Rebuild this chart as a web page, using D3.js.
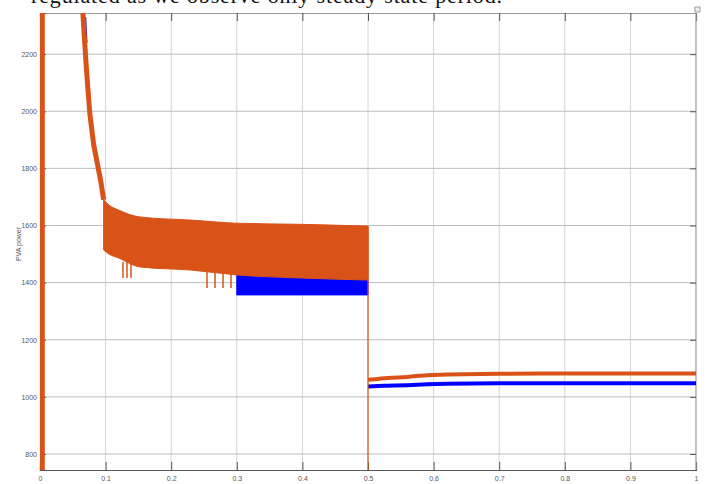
<!DOCTYPE html>
<html>
<head>
<meta charset="utf-8">
<script src="https://cdn.jsdelivr.net/npm/d3@7"></script>
<style>
  body { margin: 0; background: #fff; }
  svg { display: block; }
</style>
</head>
<body>
<div id="chart"></div>
<script>
// data (time in s, power)

var xTicks = [0, 0.1, 0.2, 0.3, 0.4, 0.5, 0.6, 0.7, 0.8, 0.9, 1],
    xTickLabels = ["0", "0.1", "0.2", "0.3", "0.4", "0.5", "0.6", "0.7", "0.8", "0.9", "1"],
    yTicks = [800, 1000, 1200, 1400, 1600, 1800, 2000, 2200],
    yTickLabels = ["800", "1000", "1200", "1400", "1600", "1800", "2000", "2200"];

// start-up spike at t=0
var spikeT = [0.0035, 0.0035],
    spikeV = [700, 2400];

// decay before the band starts
var decayT = [0.064, 0.0665, 0.071, 0.076, 0.082, 0.088, 0.093, 0.097],
    decayV = [2400, 2300, 2140, 1990, 1880, 1810, 1750, 1690];
var blueDecayT = [0.0685, 0.0705],
    blueDecayV = [2330, 2240];

// orange ripple band 0.1 .. 0.5
var bandT = [0.097, 0.105, 0.12, 0.152, 0.23, 0.3, 0.4, 0.5],
    bandTop = [1690, 1672, 1654, 1630, 1619, 1608, 1604, 1598],
    bandBot = [1514, 1500, 1486, 1455, 1444, 1427, 1416, 1409];

// blue band visible 0.3 .. 0.5
var blueT = [0.3, 0.4, 0.5],
    blueTop = [1430, 1420, 1412],
    blueBot = [1357, 1357, 1357];

// dips under the orange band
var dipT = [0.1265, 0.1326, 0.1387, 0.2546, 0.2668, 0.279, 0.2912],
    dipV = [1416, 1416, 1416, 1381, 1381, 1381, 1381];

// step at t=0.5
var stepT = [0.5, 0.5],
    stepV = [1598, 700];

// after the step
var postT = [0.5, 0.515, 0.53, 0.56, 0.59, 0.62, 0.7, 0.8, 0.9, 1.0],
    postOrange = [1060, 1063, 1066, 1070, 1076, 1078, 1081, 1082, 1082, 1082],
    postBlue = [1036, 1038, 1039, 1041, 1044, 1046, 1048, 1048, 1048, 1048];

// Drawing

var W = 708, H = 484,
    L = 40, R = 696, T = 13, B = 470;

var orange = "#D95319", blue = "#0000FF";

var svg = d3.select("#chart").append("svg")
  .attr("width", W).attr("height", H);

var x = d3.scaleLinear().domain([0, 1]).range([L, R]);
var y = d3.scaleLinear().domain([744, 2344]).range([B, T]);

// caption from the document above the figure (cut by the page edge in the source)
svg.append("text")
  .attr("x", 31).attr("y", 3)
  .attr("textLength", 471)
  .style("font-family", "'Liberation Serif', 'DejaVu Serif', serif")
  .style("font-size", "22px")
  .style("fill", "#111")
  .text("regulated as we observe only steady state period.");

svg.append("clipPath").attr("id", "plotclip")
  .append("rect").attr("x", L).attr("y", T).attr("width", R - L).attr("height", B - T);

// grid
svg.append("g").selectAll("line").data(xTicks.slice(1, -1)).enter().append("line")
  .attr("x1", function(d){ return x(d); }).attr("x2", function(d){ return x(d); })
  .attr("y1", T).attr("y2", B)
  .style("stroke", "#d4d4d4").style("stroke-width", 1);

svg.append("g").selectAll("line").data(yTicks).enter().append("line")
  .attr("x1", L).attr("x2", R)
  .attr("y1", function(d){ return y(d); }).attr("y2", function(d){ return y(d); })
  .style("stroke", "#bdbdbd").style("stroke-width", 1);

// axes box
var xAxisB = d3.axisBottom(x).tickValues(xTicks).tickSize(-8).tickFormat(function(d, i){ return xTickLabels[i]; });
var xAxisT = d3.axisTop(x).tickValues(xTicks).tickSize(-8).tickFormat("");
var yAxisL = d3.axisLeft(y).tickValues(yTicks).tickSize(-6).tickFormat(function(d, i){ return yTickLabels[i]; });
var yAxisR = d3.axisRight(y).tickValues(yTicks).tickSize(-6).tickFormat("");

function styleAxis(g, col) {
  g.select(".domain").style("stroke", col).style("stroke-width", 1.2);
  g.selectAll(".tick line").style("stroke", "#555");
  g.selectAll(".tick text").style("fill", "#555")
    .style("font-family", "'Liberation Sans', Arial, sans-serif").style("font-size", "7px");
}

var gxb = svg.append("g").attr("transform", "translate(0," + B + ")").call(xAxisB);
styleAxis(gxb, "#555");
gxb.selectAll(".tick text").attr("y", 11).attr("dy", 0);

var gxt = svg.append("g").attr("transform", "translate(0," + T + ")").call(xAxisT);
styleAxis(gxt, "#9a9a9a");

var gyl = svg.append("g").attr("transform", "translate(" + L + ",0)").call(yAxisL);
styleAxis(gyl, "#555");
gyl.selectAll(".tick text").attr("x", -3);

var gyr = svg.append("g").attr("transform", "translate(" + R + ",0)").call(yAxisR);
styleAxis(gyr, "#9a9a9a");
gyr.selectAll(".domain").attr("d", "M0," + T + "V" + B);

// y label
svg.append("text")
  .attr("transform", "translate(21,244)rotate(-90)")
  .attr("text-anchor", "middle")
  .style("font-family", "'Liberation Sans', Arial, sans-serif")
  .style("font-size", "7px").style("fill", "#555")
  .text("PVA power");

// little toolbar square, top right
svg.append("rect").attr("x", R - 1).attr("y", 7).attr("width", 5).attr("height", 5)
  .style("fill", "#eee").style("stroke", "#888").style("stroke-width", 0.8);

// series
var plot = svg.append("g").attr("clip-path", "url(#plotclip)");

function pts(ts, vs) { return ts.map(function(t, i){ return [t, vs[i]]; }); }
function band(ts, top, bot) { return ts.map(function(t, i){ return {t: t, a: top[i], b: bot[i]}; }); }

var line = d3.line().x(function(d){ return x(d[0]); }).y(function(d){ return y(d[1]); });
var area = d3.area()
  .x(function(d){ return x(d.t); })
  .y0(function(d){ return y(d.b); })
  .y1(function(d){ return y(d.a); })
  .curve(d3.curveMonotoneX);

// blue underneath
plot.append("path").datum(band(blueT, blueTop, blueBot)).attr("d", area)
  .style("fill", blue).style("stroke", blue).style("stroke-width", 1);
plot.append("path").datum(pts(blueDecayT, blueDecayV)).attr("d", line)
  .style("fill", "none").style("stroke", blue).style("stroke-width", 2.5);
plot.append("path").datum(pts(postT, postBlue)).attr("d", line.curve(d3.curveMonotoneX))
  .style("fill", "none").style("stroke", blue).style("stroke-width", 4);

// orange on top
plot.append("path").datum(pts(spikeT, spikeV)).attr("d", line.curve(d3.curveLinear))
  .style("fill", "none").style("stroke", orange).style("stroke-width", 5);
plot.append("path").datum(pts(decayT, decayV)).attr("d", line.curve(d3.curveLinear))
  .style("fill", "none").style("stroke", orange).style("stroke-width", 5);
plot.append("path").datum(band(bandT, bandTop, bandBot)).attr("d", area)
  .style("fill", orange).style("stroke", orange).style("stroke-width", 1);

plot.append("g").selectAll("line").data(pts(dipT, dipV)).enter().append("line")
  .attr("x1", function(d){ return x(d[0]); }).attr("x2", function(d){ return x(d[0]); })
  .attr("y1", function(d){ return y(d[1]); })
  .attr("y2", function(d){ return y(d[1]) - 16; })
  .style("stroke", orange).style("stroke-width", 1.5);

plot.append("path").datum(pts(stepT, stepV)).attr("d", line.curve(d3.curveLinear))
  .style("fill", "none").style("stroke", orange).style("stroke-width", 1.2);
plot.append("path").datum(pts(postT, postOrange)).attr("d", line.curve(d3.curveMonotoneX))
  .style("fill", "none").style("stroke", orange).style("stroke-width", 4);
</script>
</body>
</html>
